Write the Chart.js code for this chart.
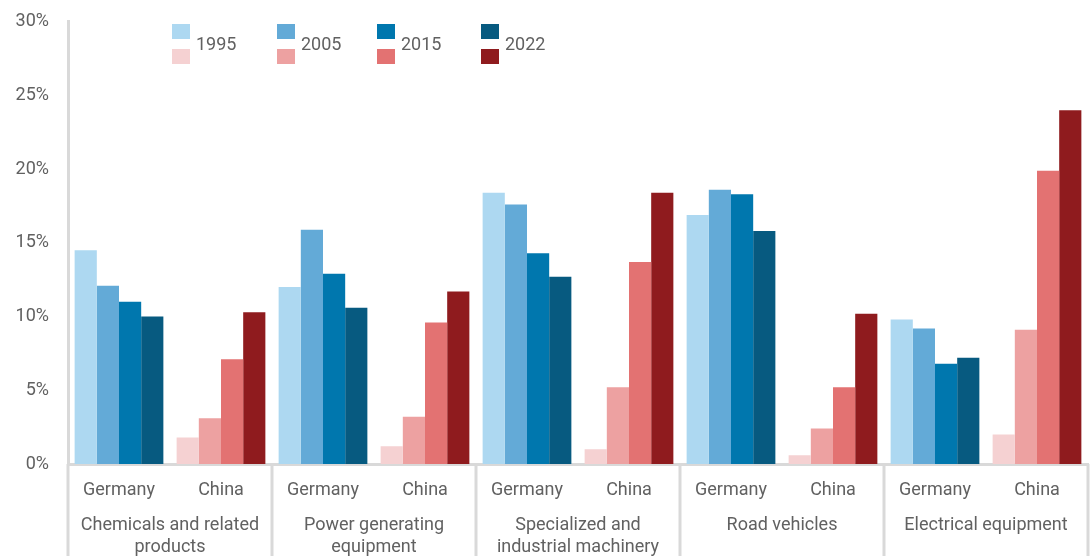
<!DOCTYPE html>
<html>
<head>
<meta charset="utf-8">
<script src="https://cdn.jsdelivr.net/npm/chart.js@4/dist/chart.umd.min.js"></script>
<style>
  html, body { margin: 0; padding: 0; background: #fff; overflow: hidden; }
  #wrap { width: 1091px; height: 580px; position: relative; }
</style>
</head>
<body>
<div id="wrap"><canvas id="chart"></canvas></div>
<script>
const groups = [
  ["Chemicals and related", "products"],
  ["Power generating", "equipment"],
  ["Specialized and", "industrial machinery"],
  "Road vehicles",
  "Electrical equipment",
];
const countries = ["Germany", "China"];
const years = ["1995", "2005", "2015", "2022"];
const yTicks = [0, 5, 10, 15, 20, 25, 30];

// share in %, one value per product group
const germany1995 = [14.5, 12.0, 18.4, 16.9, 9.8];
const germany2005 = [12.1, 15.9, 17.6, 18.6, 9.2];
const germany2015 = [11.0, 12.9, 14.3, 18.3, 6.8];
const germany2022 = [10.0, 10.6, 12.7, 15.8, 7.2];
const china1995 = [1.8, 1.2, 1.0, 0.6, 2.0];
const china2005 = [3.1, 3.2, 5.2, 2.4, 9.1];
const china2015 = [7.1, 9.6, 13.7, 5.2, 19.9];
const china2022 = [10.3, 11.7, 18.4, 10.2, 24.0];

const blues = ["#add8f1", "#63aad7", "#0077ae", "#075a80"];
const reds = ["#f5d1d2", "#eda1a1", "#e37272", "#8f1b1e"];

const germanySeries = [germany1995, germany2005, germany2015, germany2022];
const chinaSeries = [china1995, china2005, china2015, china2022];

const xLabels = [];
groups.forEach(() => countries.forEach(c => xLabels.push(c)));

const datasets = years.map((y, i) => {
  const data = [];
  germanySeries[i].forEach((v, g) => { data.push(v); data.push(chinaSeries[i][g]); });
  return {
    label: y,
    data: data,
    backgroundColor: xLabels.map((c, k) => (k % 2 === 0 ? blues[i] : reds[i])),
    borderWidth: 0,
    categoryPercentage: 0.87,
    barPercentage: 1.0,
  };
});

const lineColor = "#d9d9d9";
const textColor = "#616161";
const fontFamily = "Roboto, 'Open Sans', sans-serif";

const decorations = {
  id: "decorations",
  afterDraw(chart) {
    const ctx = chart.ctx;
    const x = chart.scales.x;
    const h = chart.height;
    ctx.save();
    ctx.strokeStyle = lineColor;
    ctx.lineWidth = 3;
    // group separators below the axis
    const bounds = [chart.chartArea.left, chart.chartArea.right];
    for (let k = 2; k < xLabels.length; k += 2) {
      bounds.push((x.getPixelForTick(k - 1) + x.getPixelForTick(k)) / 2);
    }
    bounds.forEach(px => {
      ctx.beginPath();
      ctx.moveTo(px, chart.chartArea.bottom);
      ctx.lineTo(px, h);
      ctx.stroke();
    });
    // legend: blue row over red row, year between them
    const colX = [172, 277, 377, 481];
    ctx.font = "18px " + fontFamily;
    ctx.textBaseline = "middle";
    years.forEach((y, i) => {
      ctx.fillStyle = blues[i];
      ctx.fillRect(colX[i], 24, 18, 15);
      ctx.fillStyle = reds[i];
      ctx.fillRect(colX[i], 49, 18, 15);
      ctx.fillStyle = textColor;
      ctx.fillText(y, colX[i] + 24, 45);
    });
    ctx.restore();
  },
};

new Chart(document.getElementById("chart"), {
  type: "bar",
  data: { labels: xLabels, datasets: datasets },
  plugins: [decorations],
  options: {
    responsive: true,
    maintainAspectRatio: false,
    animation: false,
    layout: { padding: { top: 9, right: 3, left: 0, bottom: 0 } },
    plugins: { legend: { display: false }, tooltip: { enabled: false } },
    scales: {
      y: {
        min: 0,
        max: 30,
        afterBuildTicks: s => { s.ticks = yTicks.map(v => ({ value: v })); },
        afterFit: s => { s.width = 68; },
        grid: { display: false },
        border: { display: true, color: lineColor, width: 3 },
        ticks: {
          padding: 11,
          color: textColor,
          font: { family: fontFamily, size: 18 },
          callback: v => v + "%",
        },
      },
      x: {
        position: "bottom",
        afterFit: s => { s.height = 42; },
        grid: { display: false, drawTicks: false },
        border: { display: true, color: lineColor, width: 3 },
        ticks: {
          padding: 16,
          color: textColor,
          maxRotation: 0,
          autoSkip: false,
          font: { family: fontFamily, size: 18 },
        },
      },
      x2: {
        type: "category",
        position: "bottom",
        labels: groups,
        offset: true,
        afterFit: s => { s.height = 74; },
        grid: { display: false, drawTicks: false },
        border: { display: false },
        ticks: {
          padding: 9,
          color: textColor,
          maxRotation: 0,
          autoSkip: false,
          font: { family: fontFamily, size: 18, lineHeight: 1.2 },
        },
      },
    },
  },
});
</script>
</body>
</html>
